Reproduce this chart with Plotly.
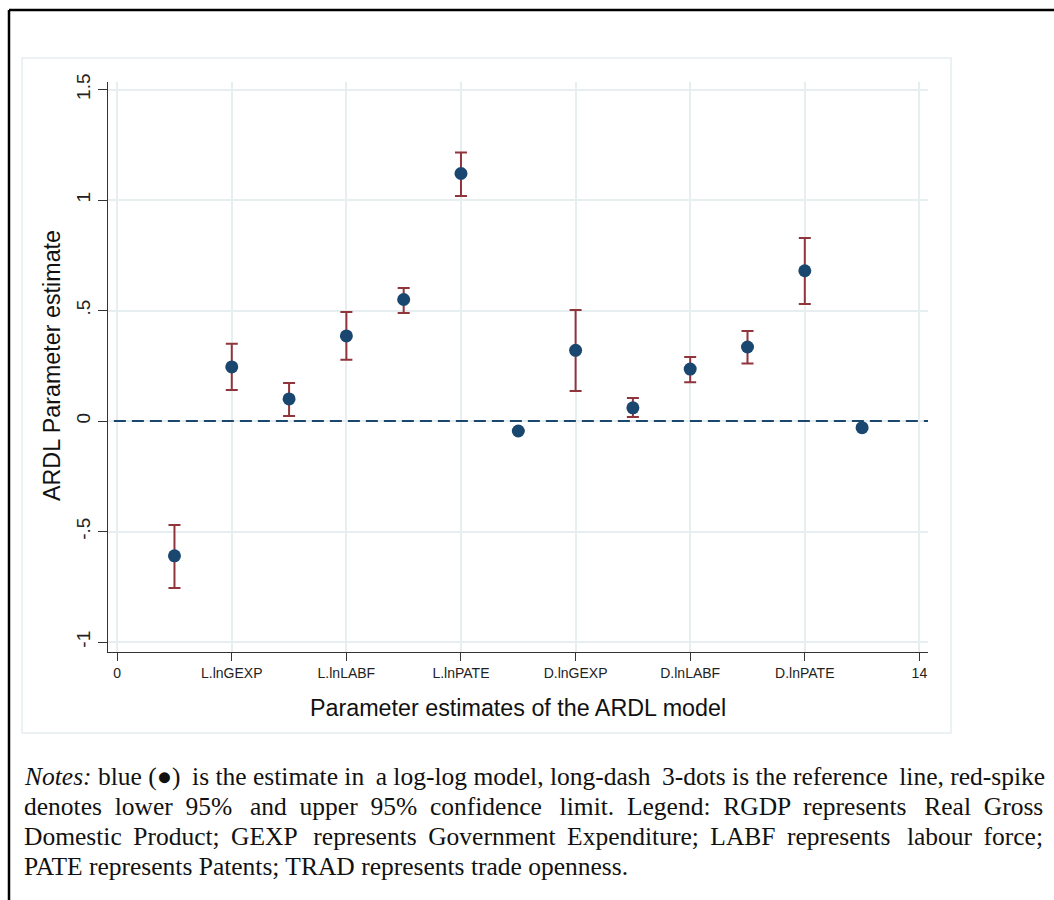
import plotly.graph_objects as go

# ---- data ----
positions = [1, 2, 3, 4, 5, 6, 7, 8, 9, 10, 11, 12, 13]
estimates = [-0.61, 0.245, 0.10, 0.385, 0.55, 1.12, -0.045, 0.32, 0.06, 0.235, 0.335, 0.68, -0.03]
upper_ci = [-0.47, 0.35, 0.172, 0.493, 0.602, 1.215, None, 0.502, 0.104, 0.29, 0.407, 0.828, None]
lower_ci = [-0.755, 0.14, 0.023, 0.277, 0.489, 1.018, None, 0.136, 0.018, 0.176, 0.26, 0.529, None]
x_tick_vals = [0, 2, 4, 6, 8, 10, 12, 14]
x_tick_text = ["0", "L.lnGEXP", "L.lnLABF", "L.lnPATE", "D.lnGEXP", "D.lnLABF", "D.lnPATE", "14"]
y_tick_vals = [-1, -0.5, 0, 0.5, 1, 1.5]
y_tick_text = ["-1", "-.5", "0", ".5", "1", "1.5"]
ref_value = 0
notes_words = [
    ["<i>Notes:</i>", "blue", "(●)", "is", "the", "estimate", "in", "a", "log-log", "model,", "long-dash",
     "3-dots", "is", "the", "reference", "line,", "red-spike"],
    ["denotes", "lower", "95%", "and", "upper", "95%", "confidence", "limit.", "Legend:", "RGDP",
     "represents", "Real", "Gross"],
    ["Domestic", "Product;", "GEXP", "represents", "Government", "Expenditure;", "LABF", "represents",
     "labour", "force;"],
    ["PATE", "represents", "Patents;", "TRAD", "represents", "trade", "openness."],
]
# spacing per line to mimic justified text: (base gap, extra thin spaces spread over gaps)
line_base_gap = [" ", " \u00a0", " \u2009", " "]
line_extra_thin = [4, 3, 2, 0]

NAVY = "#1A476F"
CRANBERRY = "#90353B"
GRID = "#E6EEF0"

W, H = 1054, 900
L, R, T, B = 108, 928, 82, 652

def px(x):
    return (x - L) / (R - L)

def py(y):
    return (B - y) / (B - T)

def build_line(words, base, extra):
    n_gaps = len(words) - 1
    step = n_gaps / extra if extra else None
    extra_idx = {int(round(step * (k + 0.5))) for k in range(extra)} if extra else set()
    out = words[0]
    for g in range(n_gaps):
        out += base + ("\u2009" if g in extra_idx else "") + words[g + 1]
    return out

err_plus = [(u - e) if u is not None else None for u, e in zip(upper_ci, estimates)]
err_minus = [(e - l) if l is not None else None for l, e in zip(lower_ci, estimates)]

fig = go.Figure()

fig.add_trace(go.Scatter(
    x=[-1, 15], y=[ref_value, ref_value], mode="lines",
    line=dict(color=NAVY, width=2, dash="12px,6px"),
    hoverinfo="skip", showlegend=False,
))

fig.add_trace(go.Scatter(
    x=positions, y=estimates, mode="markers",
    marker=dict(color=NAVY, size=13),
    error_y=dict(type="data", symmetric=False, array=err_plus, arrayminus=err_minus,
                 color=CRANBERRY, thickness=2, width=6),
    showlegend=False,
))

fig.update_xaxes(
    range=[-0.16, 14.15], tickvals=x_tick_vals, ticktext=x_tick_text,
    showgrid=True, gridcolor=GRID, gridwidth=1.5, zeroline=False,
    showline=True, linecolor="#333333", linewidth=1.2,
    ticks="outside", ticklen=8, tickcolor="#333333",
    tickfont=dict(family="Liberation Sans, Arial", size=14, color="#222222"),
)
fig.update_yaxes(
    range=[-1.045, 1.534], tickvals=y_tick_vals, ticktext=y_tick_text,
    showgrid=True, gridcolor=GRID, gridwidth=1.5, zeroline=False,
    showline=True, linecolor="#333333", linewidth=1.2,
    ticks="outside", ticklen=9, tickcolor="#333333", tickangle=-90,
    tickfont=dict(family="Liberation Sans, Arial", size=19, color="#222222"),
)

shapes = [
    # outer black frame (top and left)
    dict(type="line", xref="paper", yref="paper", x0=px(9), x1=px(1060), y0=py(10), y1=py(10),
         line=dict(color="black", width=2.5)),
    dict(type="line", xref="paper", yref="paper", x0=px(9), x1=px(9), y0=py(10), y1=py(905),
         line=dict(color="black", width=2.5)),
    # light graph region outline
    dict(type="rect", xref="paper", yref="paper", x0=px(22), x1=px(951), y0=py(58), y1=py(733),
         line=dict(color=GRID, width=1.5), layer="below"),
]

annotations = [
    dict(text="ARDL Parameter estimate", xref="paper", yref="paper", x=px(52), y=py(366),
         showarrow=False, textangle=-90, xanchor="center", yanchor="middle",
         font=dict(family="Liberation Sans, Arial", size=23.3, color="#111111")),
    dict(text="Parameter estimates of the ARDL model", xref="paper", yref="paper", x=px(518), y=py(708),
         showarrow=False, xanchor="center", yanchor="middle",
         font=dict(family="Liberation Sans, Arial", size=23.3, color="#111111")),
]
for i, words in enumerate(notes_words):
    annotations.append(dict(
        text=build_line(words, line_base_gap[i], line_extra_thin[i]),
        xref="paper", yref="paper", x=px(22), y=py(776 + 30 * i),
        showarrow=False, xanchor="left", yanchor="middle",
        font=dict(family="Liberation Serif, Times New Roman, serif", size=25.5, color="#111111"),
    ))

fig.update_layout(
    width=W, height=H,
    margin=dict(l=L, r=W - R, t=T, b=H - B),
    paper_bgcolor="white", plot_bgcolor="white",
    shapes=shapes, annotations=annotations,
    showlegend=False,
)

fig.write_html("out.html")
